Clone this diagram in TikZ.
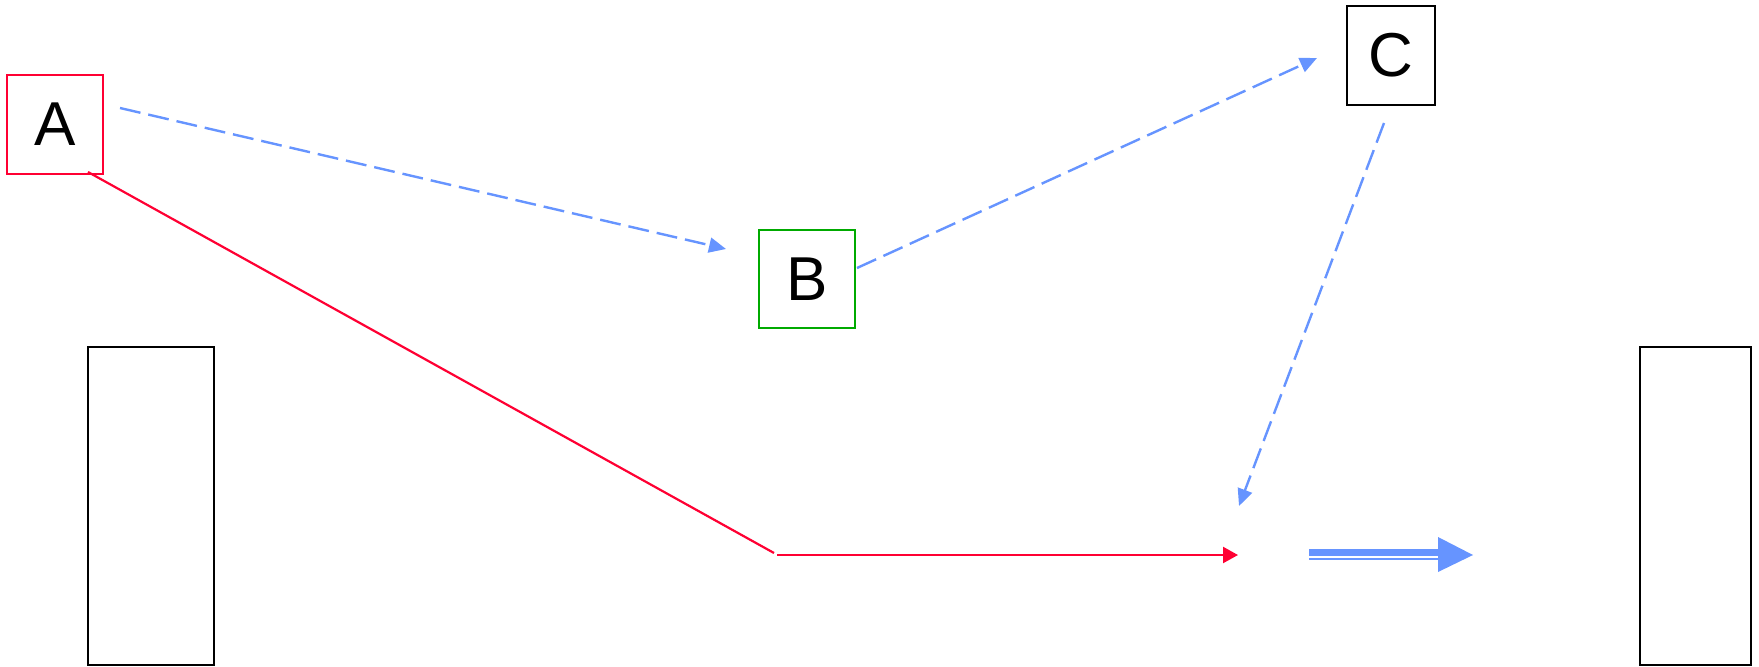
\documentclass[tikz,border=0pt]{standalone}
\usepackage{fontspec}
\setmainfont{Liberation Sans}
\usetikzlibrary{arrows.meta}
\definecolor{myred}{HTML}{FF0033}
\definecolor{myblue}{HTML}{6694FF}
\definecolor{mygreen}{HTML}{00AA00}
\tikzset{
  box/.style={draw, line width=1.35pt, rectangle, inner sep=0pt, font=\fontsize{31}{37}\selectfont},
  dashblue/.style={draw=myblue, line width=1.2pt, dash pattern=on 10.5pt off 4pt,
    -{Triangle[length=8.5pt,width=7.5pt,fill=myblue]}},
  redline/.style={draw=myred, line width=1.1pt},
}
\begin{document}
\begin{tikzpicture}[x=0.5pt,y=-0.5pt]
\useasboundingbox (0,0) rectangle (1759,667);
% nodes
\node[box, draw=myred, minimum width=48pt, minimum height=49.5pt] (A) at (55,124.5) {A\hspace{7pt}};
\node[box, draw=mygreen, minimum width=48pt, minimum height=49pt] (B) at (807,279) {B};
\node[box, draw=black, minimum width=44pt, minimum height=49.5pt] (C) at (1391,55.5) {C};
\node[box, draw=black, minimum width=63pt, minimum height=159pt] (L) at (151,506) {};
\node[box, draw=black, minimum width=55.5pt, minimum height=159pt] (R) at (1695.5,506) {};
% coordinates
\coordinate (a1) at (120,108);
\coordinate (b0) at (726,249);
\coordinate (b1) at (857,268);
\coordinate (c0) at (1317,58);
\coordinate (c1) at (1384,123);
\coordinate (d0) at (1239,506);
\coordinate (r0) at (88,172);
\coordinate (r1) at (774,553);
\coordinate (r2) at (777,555);
\coordinate (r3) at (1238,555);
\coordinate (e0) at (1309,552.5);
\coordinate (e1) at (1440,552.5);
\coordinate (f0) at (1309,559);
\coordinate (f1) at (1440,559);
% dashed blue connectors
\draw[dashblue] (a1) -- (b0);
\draw[dashblue] (b1) -- (c0);
\draw[dashblue] (c1) -- (d0);
% red connectors
\draw[redline] (r0) -- (r1);
\draw[redline, -{Triangle[length=7.5pt,width=8pt,fill=myred]}] (r2) -- (r3);
% double arrow
\draw[myblue, line width=3.5pt] (e0) -- (e1);
\draw[myblue, line width=1pt] (f0) -- (f1);
\fill[myblue] (1438,537) -- (1473,555) -- (1438,572) -- cycle;
\end{tikzpicture}
\end{document}
